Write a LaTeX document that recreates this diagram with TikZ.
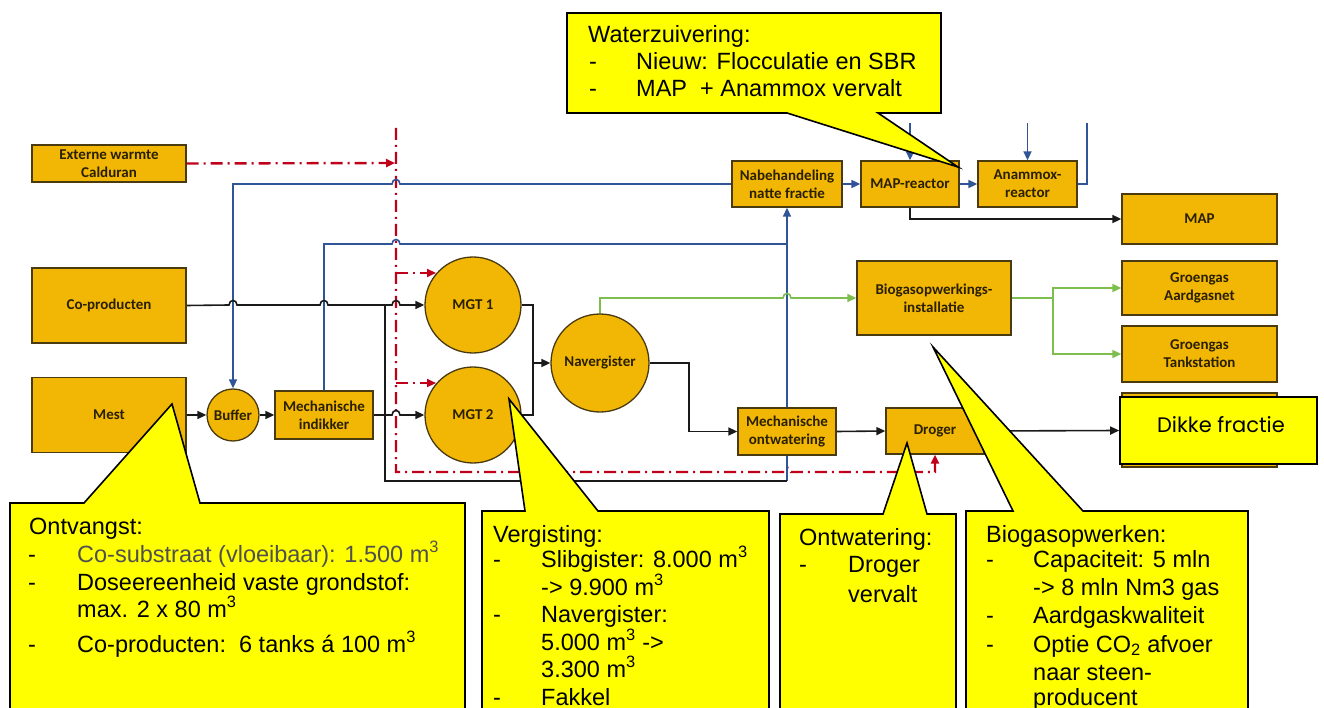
\documentclass[tikz,border=0pt]{standalone}
\usepackage{fontspec}
\setmainfont{Liberation Sans}
\newfontfamily\boxfont{Carlito}
\newfontfamily\dikfont{Poppins}
\usetikzlibrary{arrows.meta,backgrounds}
\definecolor{boxfill}{HTML}{F2B705}
\definecolor{boxdraw}{HTML}{4A3A10}
\definecolor{boxtext}{HTML}{2A2000}
\definecolor{heatred}{HTML}{C0001A}
\definecolor{waterblue}{HTML}{2F5597}
\definecolor{gasgreen}{HTML}{7DBE4F}
\definecolor{flowblack}{HTML}{1A1A1A}
\definecolor{callyellow}{HTML}{FFFF00}
\definecolor{softgray}{HTML}{505050}
\begin{document}
\begin{tikzpicture}[x=1pt,y=-1pt,
  pbox/.style={draw=boxdraw, fill=boxfill, line width=1.3pt, rectangle, inner sep=1pt, align=center, text=boxtext, font=\boxfont\bfseries\fontsize{15}{18}\selectfont},
  pcirc/.style={pbox, circle, inner sep=0pt},
  flow/.style={draw=flowblack, line width=1.6pt},
  water/.style={draw=waterblue, line width=1.6pt},
  gas/.style={draw=gasgreen, line width=1.6pt},
  heat/.style={draw=heatred, line width=2.4pt, dash pattern=on 12pt off 5pt on 2pt off 5pt},
  tip/.style={-{Triangle[length=9pt,width=8pt]}},
  callout/.style={fill=callyellow, draw=black, line width=1.6pt, line join=miter},
  ct/.style={anchor=base west, inner sep=0pt, font=\fontsize{23.5}{26}\selectfont, text=black}]
\useasboundingbox (0,0) rectangle (1324,708);
\clip (0,0) rectangle (1324,708);

% ---------- process nodes ----------
\node[pbox, minimum width=154pt, minimum height=37pt] (ext) at (109,163.5) {Externe warmte\\Calduran};
\node[pbox, minimum width=154pt, minimum height=75pt] (cop) at (109,305.5) {Co-producten};
\node[pbox, minimum width=154pt, minimum height=75pt] (mest) at (109,415) {Mest};
\node[pcirc, minimum size=52pt] (buffer) at (233,415) {Buffer};
\node[pbox, minimum width=98pt, minimum height=48pt] (indik) at (324,415) {Mechanische\\indikker};
\node[pcirc, minimum size=96pt] (mgt1) at (473,305) {MGT 1};
\node[pcirc, minimum size=96pt] (mgt2) at (473,415) {MGT 2};
\node[pcirc, minimum size=98pt] (naver) at (600,363) {Navergister};
\node[pbox, minimum width=98pt, minimum height=47pt] (ontw) at (787,431.5) {Mechanische\\ontwatering};
\node[pbox, minimum width=98pt, minimum height=46pt] (droger) at (935,431) {Droger};
\node[pbox, minimum width=110pt, minimum height=46pt] (nabeh) at (787,184) {Nabehandeling\\natte fractie};
\node[pbox, minimum width=98pt, minimum height=46pt] (mapr) at (910,184) {MAP-reactor};
\node[pbox, minimum width=99pt, minimum height=46pt] (anam) at (1027.5,184) {Anammox-\\reactor};
\node[pbox, minimum width=155pt, minimum height=50pt] (map) at (1199.5,219) {MAP};
\node[pbox, minimum width=154pt, minimum height=74pt] (biogas) at (934,298) {Biogasopwerkings-\\installatie};
\node[pbox, minimum width=155pt, minimum height=54pt] (aard) at (1199.5,288) {Groengas\\Aardgasnet};
\node[pbox, minimum width=155pt, minimum height=56pt] (tank) at (1199.5,354) {Groengas\\Tankstation};
\node[pbox, minimum width=155pt, minimum height=74pt] (hidden) at (1199.5,430) {};
\node[draw=black, fill=callyellow, line width=1.6pt, minimum width=197pt, minimum height=67pt] (dikke) at (1218.5,430.5) {};
\node[anchor=base, inner sep=0pt, font=\dikfont\fontsize{21}{24}\selectfont] (diktxt) at (1221,432) {Dikke fractie};

% ---------- connectors ----------
\begin{scope}[on background layer]
% heat (red dash-dot)
\draw[heat,tip] (ext.east) -- (395,163);
\draw[heat,tip] (396,128) -- (396,472) -- (783,472) .. controls (783,466) and (791,466) .. (791,472) -- (935,472) -- (droger.south);
\draw[heat,tip] (396,273) -- (436,273);
\draw[heat,tip] (396,383) -- (436,383);
% water (blue)
\draw[water,tip] (nabeh.west) -- (400,184) .. controls (400,178) and (392,178) .. (392,184) -- (233,184) -- (buffer.north);
\draw[water] (indik.north) -- (324,244) -- (392,244) .. controls (392,238) and (400,238) .. (400,244) -- (787,244);
\draw[water,tip] (787,481) -- (nabeh.south);
\draw[water,tip] (nabeh.east) -- (mapr.west);
\draw[water,tip] (mapr.east) -- (anam.west);
\draw[water,tip] (910,123) -- (mapr.north);
\draw[water,tip] (1027.5,123) -- (anam.north);
\draw[water] (1087,123) |- (anam.east);
% main flow (black)
\draw[flow,tip] (cop.east) -- (229,305) .. controls (229,299) and (237,299) .. (237,305) -- (320,305) .. controls (320,299) and (328,299) .. (328,305) -- (392,305) .. controls (392,299) and (400,299) .. (400,305) -- (mgt1.west);
\draw[flow] (385,305) -- (385,481) -- (787,481);
\draw[flow,tip] (mest.east) -- (buffer.west);
\draw[flow,tip] (buffer.east) -- (indik.west);
\draw[flow,tip] (indik.east) -- (392,415) .. controls (392,409) and (400,409) .. (400,415) -- (mgt2.west);
\draw[flow] (mgt1.east) -- (533,305) -- (533,415) -- (mgt2.east);
\draw[flow,tip] (533,363) -- (naver.west);
\draw[flow,tip] (naver.east) -- (689,363) |- (ontw.west);
\draw[flow,tip] (ontw.east) -- (droger.west);
\draw[flow,tip] (droger.east) -- (dikke.west);
\draw[flow,tip] (mapr.south) |- (map.west);
% gas (green)
\draw[gas,tip] (naver.north) -- (600,298) -- (783,298) .. controls (783,292) and (791,292) .. (791,298) -- (biogas.west);
\draw[gas,tip] (biogas.east) -- (1053,298) |- (aard.west);
\draw[gas,tip] (1053,298) |- (tank.west);
\end{scope}

% ---------- callouts ----------
\path[callout] (567,13) -- (941,13) -- (941,113) -- (878,113) -- (958,167) -- (787,113) -- (567,113) -- cycle;
\node[ct] (w0) at (588,43) {Waterzuivering:};
\node[ct] (w1d) at (589,70) {-};
\node[ct] (w1) at (636,70) {Nieuw: Flocculatie en SBR};
\node[ct] (w2d) at (589,97) {-};
\node[ct] (w2) at (636,97) {MAP\ \ + Anammox vervalt};

\path[callout] (10,503) -- (84,503) -- (172,404) -- (200,503) -- (465,503) -- (465,716) -- (10,716) -- cycle;
\node[ct] (o0) at (29,534) {Ontvangst:};
\node[ct] (o1d) at (28,562) {-};
\node[ct, text=softgray] (o1) at (77,562) {Co-substraat (vloeibaar): 1.500 m\textsuperscript{3}};
\node[ct] (o2d) at (28,590) {-};
\node[ct] (o2) at (77,590) {Doseereenheid vaste grondstof:};
\node[ct] (o3) at (77,617) {max. 2 x 80 m\textsuperscript{3}};
\node[ct] (o4d) at (28,652) {-};
\node[ct] (o4) at (77,652) {Co-producten:\ \ 6 tanks á 100 m\textsuperscript{3}};

\path[callout] (482,511) -- (525,511) -- (509,399) -- (598,511) -- (769,511) -- (769,716) -- (482,716) -- cycle;
\node[ct] (v0) at (493,542) {Vergisting:};
\node[ct] (v1d) at (493,567) {-};
\node[ct] (v1) at (541,567) {Slibgister: 8.000 m\textsuperscript{3}};
\node[ct] (v2) at (541,595) {-> 9.900 m\textsuperscript{3}};
\node[ct] (v3d) at (493,622) {-};
\node[ct] (v3) at (541,622) {Navergister:};
\node[ct] (v4) at (541,650) {5.000 m\textsuperscript{3} ->};
\node[ct] (v5) at (541,677) {3.300 m\textsuperscript{3}};
\node[ct] (v6d) at (493,705) {-};
\node[ct] (v6) at (541,705) {Fakkel};

\path[callout] (780,514) -- (883,514) -- (907,443) -- (927,514) -- (956,514) -- (956,716) -- (780,716) -- cycle;
\node[ct] (d0) at (799,545) {Ontwatering:};
\node[ct] (d1d) at (799,572) {-};
\node[ct] (d1) at (848,572) {Droger};
\node[ct] (d2) at (848,602) {vervalt};

\path[callout] (966,511) -- (1013,511) -- (933,347) -- (1083,511) -- (1248,511) -- (1248,716) -- (966,716) -- cycle;
\node[ct] (b0) at (986,542) {Biogasopwerken:};
\node[ct] (b1d) at (986,567) {-};
\node[ct] (b1) at (1033,567) {Capaciteit: 5 mln};
\node[ct] (b2) at (1033,595) {-> 8 mln Nm3 gas};
\node[ct] (b3d) at (986,623) {-};
\node[ct] (b3) at (1033,623) {Aardgaskwaliteit};
\node[ct] (b4d) at (986,652) {-};
\node[ct] (b4) at (1033,652) {Optie CO\textsubscript{2} afvoer};
\node[ct] (b5) at (1033,680) {naar steen-};
\node[ct] (b6) at (1033,705) {producent};
\end{tikzpicture}
\end{document}
